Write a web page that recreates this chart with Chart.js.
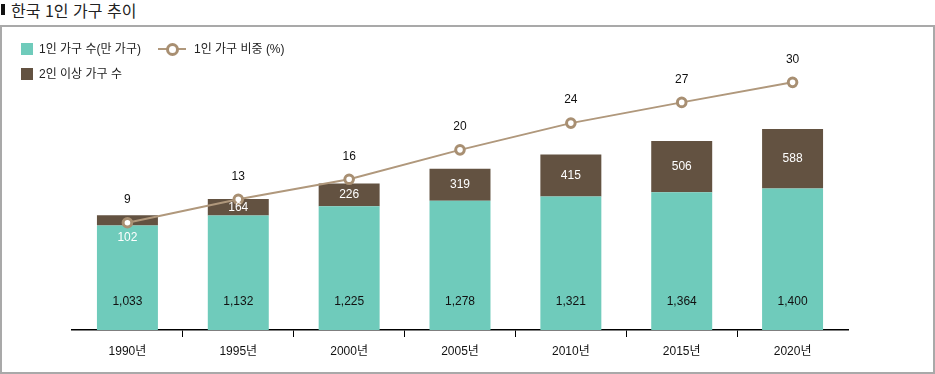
<!DOCTYPE html>
<html lang="ko">
<head>
<meta charset="utf-8">
<script src="https://cdn.jsdelivr.net/npm/chart.js@4.4.1/dist/chart.umd.min.js"></script>
<style>
  html, body { margin:0; padding:0; background:#fff; }
  body { width:935px; height:374px; position:relative; overflow:hidden;
         font-family:"Liberation Sans","Noto Sans CJK KR",sans-serif; color:#222; }
  #title { position:absolute; left:11px; top:-2px; font-size:16px; font-family:"Noto Sans CJK KR",sans-serif; color:#222; }
  #titlebar { position:absolute; left:1px; top:4px; width:4px; height:11px; background:#111; }
  #frame { position:absolute; left:0; top:25px; width:931px; height:345px; border:2px solid #a9a9a9; }
  canvas { position:absolute; left:0; top:0; }
  .lg { position:absolute; font-size:12px; line-height:14px; color:#222; font-family:"Liberation Sans","Noto Sans CJK KR",sans-serif; }
  .sw { position:absolute; width:12px; height:12px; }
</style>
</head>
<body>
<div id="titlebar"></div>
<div id="title">한국 1인 가구 추이</div>
<div id="frame"></div>
<canvas id="c" width="935" height="374"></canvas>
<div class="sw" style="left:21px;top:43px;background:#6fcbbb"></div>
<div class="lg" id="lg1" style="left:39px;top:42px"></div>
<div style="position:absolute;left:158px;top:48px;width:28px;height:2px;background:#b0987c"></div>
<div style="position:absolute;left:166px;top:43px;width:7px;height:7px;border:3px solid #a88f72;border-radius:50%;background:#fff"></div>
<div class="lg" id="lg2" style="left:194px;top:42px"></div>
<div class="sw" style="left:21px;top:68px;background:#635241"></div>
<div class="lg" id="lg3" style="left:39px;top:67px"></div>
<script>
// ---- data ----
const categories = ["1990년","1995년","2000년","2005년","2010년","2015년","2020년"];
const singleHouseholds = [1033, 1132, 1225, 1278, 1321, 1364, 1400];   // teal (label: 1인 가구 수(만 가구))
const multiHouseholds  = [102, 164, 226, 319, 415, 506, 588];          // brown (label: 2인 이상 가구 수)
const singleShare      = [9, 12.5, 15.5, 19.9, 23.9, 27, 30];          // line (%)
const seriesNames = ["1인 가구 수(만 가구)", "2인 이상 가구 수", "1인 가구 비중 (%)"];

document.getElementById('lg1').textContent = seriesNames[0];
document.getElementById('lg2').textContent = seriesNames[2];
document.getElementById('lg3').textContent = seriesNames[1];

const TEAL = '#6fcbbb', BROWN = '#635241', TAN = '#b0987c', TAN_D = '#a88f72';
const numFont = '12px "Liberation Sans", "Noto Sans CJK KR", sans-serif';
const fmt = v => v.toLocaleString('en-US');

const labelPlugin = {
  id: 'valueLabels',
  afterDatasetsDraw(chart) {
    const ctx = chart.ctx;
    ctx.save();
    ctx.font = numFont;
    ctx.textAlign = 'center';
    ctx.textBaseline = 'middle';
    const y = chart.scales.y;
    const m0 = chart.getDatasetMeta(0), m1 = chart.getDatasetMeta(1), m2 = chart.getDatasetMeta(2);
    m0.data.forEach((bar, i) => {
      ctx.fillStyle = '#111';
      ctx.fillText(fmt(singleHouseholds[i]), bar.x, y.getPixelForValue(0) - 28);
    });
    m1.data.forEach((bar, i) => {
      const h = bar.base - bar.y;
      ctx.fillStyle = '#fff';
      const ly = h < 14 ? bar.base + 12 : (bar.y + bar.base) / 2;
      ctx.fillText(fmt(multiHouseholds[i]), bar.x, ly);
    });
    m2.data.forEach((pt, i) => {
      ctx.fillStyle = '#111';
      ctx.fillText(String(Math.round(singleShare[i])), pt.x, pt.y - 23);
    });
    ctx.restore();
  }
};

new Chart(document.getElementById('c'), {
  data: {
    labels: categories,
    datasets: [
      { type:'bar', label: seriesNames[0], data: singleHouseholds, backgroundColor: TEAL,
        yAxisID:'y', stack:'s', order:2, barPercentage:0.55, categoryPercentage:1 },
      { type:'bar', label: seriesNames[1], data: multiHouseholds, backgroundColor: BROWN,
        yAxisID:'y', stack:'s', order:2, barPercentage:0.55, categoryPercentage:1 },
      { type:'line', label: seriesNames[2], data: singleShare, yAxisID:'y2', order:1,
        borderColor: TAN, borderWidth:2, pointRadius:4.3, pointBorderWidth:3,
        pointBackgroundColor:'#fff', pointBorderColor: TAN_D, tension:0 }
    ]
  },
  options: {
    responsive:false, animation:false, devicePixelRatio:1,
    layout: { padding: { left:72, right:87, top:40, bottom:0 } },
    plugins: { legend:{display:false}, tooltip:{enabled:false} },
    scales: {
      x: {
        stacked:true,
        grid: { offset:true, drawOnChartArea:false, drawTicks:true, tickLength:7, lineWidth:1,
                color: c => (c.type === 'tick' && c.index > 0) ? '#000' : 'rgba(0,0,0,0)' },
        border: { display:true, color:'#000', width:1.5 },
        ticks: { color:'#111', padding:7, font:{ family:'"Liberation Sans", "Noto Sans CJK KR", sans-serif', size:12 } },
        afterFit: s => { s.height = 44; }
      },
      y: { stacked:true, display:false, min:0, max:2870 },
      y2: { display:false, min:-7.04, max:36.33 }
    }
  },
  plugins: [labelPlugin]
});
</script>
</body>
</html>
